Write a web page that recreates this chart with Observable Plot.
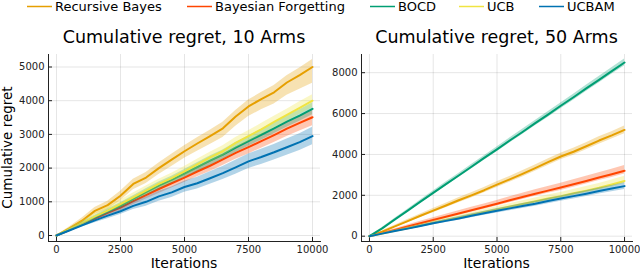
<!DOCTYPE html>
<html>
<head>
<meta charset="utf-8">
<script src="https://cdn.jsdelivr.net/npm/d3@7"></script>
<script src="https://cdn.jsdelivr.net/npm/@observablehq/plot@0.6"></script>
<style>
  html, body { margin: 0; padding: 0; background: #fff; }
  #root { position: relative; width: 640px; height: 270px; font-family: "DejaVu Sans", sans-serif; }
  .panel { position: absolute; top: 0; }
  #overlay { position: absolute; left: 0; top: 0; pointer-events: none; }
</style>
</head>
<body>
<div id="root">
  <div id="left" class="panel" style="left:0"></div>
  <div id="right" class="panel" style="left:320px"></div>
</div>
<script>
// ---------- data ----------
const methods = ["Recursive Bayes", "Bayesian Forgetting", "BOCD", "UCB", "UCBAM"];
const colors = ["#E69F00", "#FF4500", "#009E73", "#F0E442", "#0072B2"];
const iterations = [0,500,1000,1500,2000,2500,3000,3500,4000,4500,5000,5500,6000,6500,7000,7500,8000,8500,9000,9500,10000];
const xTicks = [0, 2500, 5000, 7500, 10000];
const yTicks10 = [0, 1000, 2000, 3000, 4000, 5000];
const yTicks50 = [0, 2000, 4000, 6000, 8000];
const title10 = "Cumulative regret, 10 Arms";
const title50 = "Cumulative regret, 50 Arms";
const xLabel = "Iterations";
const yLabel = "Cumulative regret";

// 10 arms: mean, band below, band above
const rb10 = [0,210,440,730,900,1180,1530,1720,2000,2250,2500,2730,2950,3180,3530,3830,4050,4250,4540,4760,5000];
const rb10Down = [0,40,80,110,130,150,170,180,190,200,210,230,250,270,290,300,320,350,380,420,480];
const rb10Up = [0,40,80,100,120,130,140,150,150,160,160,170,170,180,180,190,190,200,200,210,220];
const bf10 = [0,160,330,500,670,830,1020,1200,1380,1550,1720,1900,2070,2260,2450,2620,2800,2980,3170,3340,3510];
const bf10Down = [0,30,50,70,80,100,110,120,130,140,150,160,170,180,190,200,210,220,230,240,250];
const bf10Up = [0,30,50,60,70,80,90,100,110,120,130,140,150,160,170,170,180,190,190,200,200];
const bocd10 = [0,170,350,540,720,890,1090,1290,1480,1650,1840,2030,2220,2400,2610,2800,2990,3180,3380,3560,3760];
const bocd10Down = [0,30,50,60,70,80,90,100,110,110,120,130,140,140,150,150,160,160,170,170,180];
const bocd10Up = [0,30,50,60,70,80,90,100,110,110,120,130,140,140,150,150,160,160,170,170,180];
const ucb10 = [0,180,360,560,740,930,1130,1330,1530,1700,1900,2110,2320,2500,2750,2950,3150,3370,3580,3790,4000];
const ucb10Down = [0,30,50,70,80,90,100,110,120,130,130,140,150,150,160,170,170,180,190,190,200];
const ucb10Up = [0,40,70,90,110,120,130,140,140,150,150,150,150,160,160,160,170,170,170,180,180];
const ucbam10 = [0,150,300,450,590,720,880,1000,1160,1280,1440,1550,1700,1850,2020,2200,2330,2470,2620,2770,2950];
const ucbam10Down = [0,30,50,70,90,100,110,130,140,150,160,170,180,190,200,210,220,230,240,250,260];
const ucbam10Up = [0,30,50,70,90,110,120,140,150,160,170,180,190,200,210,220,230,230,240,250,260];

// 50 arms
const rb50 = [0,220,480,740,1000,1250,1500,1760,2000,2250,2520,2780,3050,3330,3620,3900,4130,4400,4680,4930,5200];
const rb50Down = [0,40,60,80,90,100,110,120,130,130,140,140,150,150,160,160,170,170,180,180,190];
const rb50Up = [0,40,60,80,90,100,110,120,130,130,140,140,150,150,160,160,170,170,180,180,190];
const bf50 = [0,150,310,470,630,790,950,1110,1270,1430,1590,1760,1920,2080,2230,2380,2540,2700,2870,3030,3200];
const bf50Down = [0,30,50,60,70,80,90,100,100,110,110,120,120,130,130,140,140,150,150,160,160];
const bf50Up = [0,40,60,80,100,110,120,130,140,150,160,170,180,190,200,210,220,230,240,250,260];
const bocd50 = [0,380,820,1250,1690,2120,2550,2970,3400,3830,4250,4680,5100,5530,5950,6380,6800,7230,7650,8080,8500];
const bocd50Down = [0,40,60,70,80,90,100,100,110,110,120,120,130,130,140,140,150,150,160,160,170];
const bocd50Up = [0,40,60,70,80,90,100,100,110,110,120,120,130,130,140,140,150,150,160,160,170];
const ucb50 = [0,130,260,390,520,660,790,920,1050,1180,1310,1450,1580,1710,1840,1960,2100,2230,2370,2530,2700];
const ucb50Down = [0,20,30,40,50,60,60,70,70,80,80,90,90,100,100,110,110,120,120,130,130];
const ucb50Up = [0,30,50,60,70,80,90,100,110,120,130,140,150,160,170,180,190,200,210,220,230];
const ucbam50 = [0,125,250,370,500,630,750,870,1000,1120,1240,1360,1480,1590,1720,1840,1960,2080,2210,2330,2450];
const ucbam50Down = [0,20,40,50,60,70,80,90,100,100,110,110,120,120,130,130,140,140,150,150,160];
const ucbam50Up = [0,20,40,50,60,70,80,90,100,100,110,110,120,120,130,130,140,140,150,150,160];

// ---------- build ----------
function rows(mean, down, up) {
  return iterations.map((x, i) => ({x, y: mean[i], lo: mean[i] - down[i], hi: mean[i] + up[i]}));
}
const panel10 = [
  rows(rb10, rb10Down, rb10Up), rows(bf10, bf10Down, bf10Up), rows(bocd10, bocd10Down, bocd10Up),
  rows(ucb10, ucb10Down, ucb10Up), rows(ucbam10, ucbam10Down, ucbam10Up)
];
const panel50 = [
  rows(rb50, rb50Down, rb50Up), rows(bf50, bf50Down, bf50Up), rows(bocd50, bocd50Down, bocd50Up),
  rows(ucb50, ucb50Down, ucb50Up), rows(ucbam50, ucbam50Down, ucbam50Up)
];

function makePanel(series, yDomain, yTicks, marginLeft, marginRight) {
  const marks = [
    Plot.gridX(xTicks, {stroke: "#000", strokeOpacity: 0.1}),
    Plot.gridY(yTicks, {stroke: "#000", strokeOpacity: 0.1})
  ];
  series.forEach((data, i) => {
    marks.push(Plot.areaY(data, {x: "x", y1: "lo", y2: "hi", fill: colors[i], fillOpacity: 0.3, curve: "linear"}));
    marks.push(Plot.lineY(data, {x: "x", y: "y", stroke: colors[i], strokeWidth: 2}));
  });
  return Plot.plot({
    width: 320,
    height: 270,
    marginLeft, marginRight,
    marginTop: 54,
    marginBottom: 29,
    style: {fontFamily: "DejaVu Sans", fontSize: "10px", color: "#222", background: "transparent", overflow: "visible"},
    x: {domain: [-312, 10312], ticks: xTicks, tickSize: -4, tickPadding: 8, line: true, label: null, tickFormat: d => String(d)},
    y: {domain: yDomain, ticks: yTicks, tickSize: -4, tickPadding: 8, line: true, label: null, tickFormat: d => String(d)},
    marks
  });
}

document.getElementById("left").append(makePanel(panel10, [-178, 5371], yTicks10, 48, 0));
document.getElementById("right").append(makePanel(panel50, [-260, 8890], yTicks50, 41, 8));

// ---------- overlay: legend, titles, axis labels ----------
const svg = d3.select("#root").append("svg").attr("id", "overlay").attr("width", 640).attr("height", 270)
  .style("font-family", "DejaVu Sans");
const legendX = [27, 187, 370, 459, 539];
methods.forEach((m, i) => {
  svg.append("line").attr("x1", legendX[i]).attr("x2", legendX[i] + 25).attr("y1", 6.5).attr("y2", 6.5)
    .attr("stroke", colors[i]).attr("stroke-width", 1.5);
  svg.append("text").attr("x", legendX[i] + 28).attr("y", 11).attr("font-size", 13).attr("fill", "#000").text(m);
});
svg.append("text").attr("x", 184).attr("y", 43).attr("text-anchor", "middle").attr("font-size", 17.5).attr("fill", "#000").text(title10);
svg.append("text").attr("x", 496.5).attr("y", 43).attr("text-anchor", "middle").attr("font-size", 17.5).attr("fill", "#000").text(title50);
svg.append("text").attr("x", 184).attr("y", 268).attr("text-anchor", "middle").attr("font-size", 14).attr("fill", "#000").text(xLabel);
svg.append("text").attr("x", 496.5).attr("y", 268).attr("text-anchor", "middle").attr("font-size", 14).attr("fill", "#000").text(xLabel);
svg.append("text").attr("transform", "translate(11.5,147.5) rotate(-90)").attr("text-anchor", "middle").attr("font-size", 13.5).attr("fill", "#000").text(yLabel);
</script>
</body>
</html>
